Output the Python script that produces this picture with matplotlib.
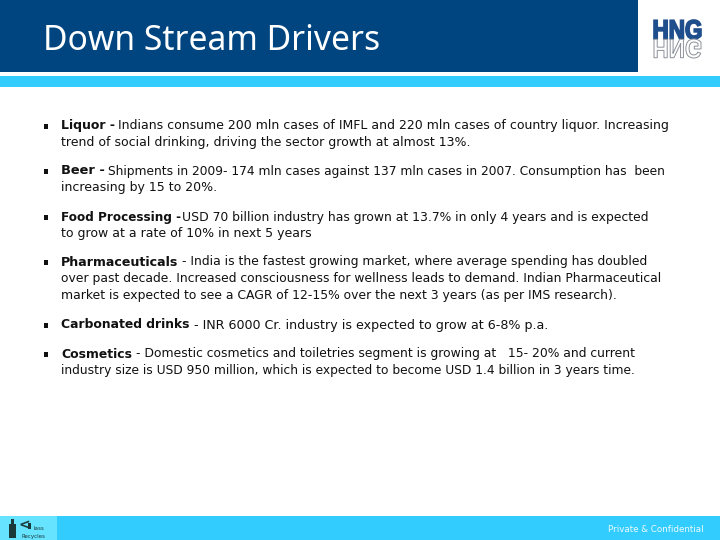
import matplotlib
matplotlib.use("Agg")
import matplotlib.pyplot as plt
from matplotlib.patches import Rectangle, PathPatch
from matplotlib.textpath import TextPath
from matplotlib.font_manager import FontProperties
from matplotlib.transforms import Affine2D

title_text = "Down Stream Drivers"
footer_text = "Private & Confidential"
logo_text = "HNG"
recycle_labels = ["lass", "Recycles"]

bold_leads = ["Liquor -", "Beer -", "Food Processing -", "Pharmaceuticals", "Carbonated drinks", "Cosmetics"]
first_lines = [
    "Indians consume 200 mln cases of IMFL and 220 mln cases of country liquor. Increasing",
    "Shipments in 2009- 174 mln cases against 137 mln cases in 2007. Consumption has  been",
    "USD 70 billion industry has grown at 13.7% in only 4 years and is expected",
    "- India is the fastest growing market, where average spending has doubled",
    "- INR 6000 Cr. industry is expected to grow at 6-8% p.a.",
    "- Domestic cosmetics and toiletries segment is growing at   15- 20% and current",
]
more_lines = [
    ["trend of social drinking, driving the sector growth at almost 13%."],
    ["increasing by 15 to 20%."],
    ["to grow at a rate of 10% in next 5 years"],
    ["over past decade. Increased consciousness for wellness leads to demand. Indian Pharmaceutical",
     "market is expected to see a CAGR of 12-15% over the next 3 years (as per IMS research)."],
    [],
    ["industry size is USD 950 million, which is expected to become USD 1.4 billion in 3 years time."],
]
first_y = [129.5, 174.5, 220.5, 265.5, 328.5, 357.5]
lead_w = [54, 44, 119, 117, 129, 71]
run_x = [118, 108, 182, 182, 194, 136]
run_w = [547, 557, 469, 465, 352, 499]
line_w = [[410], [155], [249], [599, 556], [], [576]]

NAVY = "#00457f"
CYAN = "#33ccff"
PALE = "#66e3ff"
INK = "#111111"
BODY = "DejaVu Sans"

fig = plt.figure(figsize=(7.2, 5.4), dpi=100, facecolor="white")
ax = fig.add_axes([0, 0, 1, 1])
ax.set_xlim(0, 720)
ax.set_ylim(540, 0)
ax.axis("off")


def rect(x, y, w, h, color):
    ax.add_patch(Rectangle((x, y), w, h, facecolor=color, edgecolor="none"))


def fitted(x, y, s, width, size, color=INK, family=BODY, **kw):
    """Place text and scale the font so the run spans the given pixel width."""
    t = ax.text(x, y, s, fontsize=size, va="baseline", ha="left", family=family, color=color, **kw)
    w = t.get_window_extent(fig.canvas.get_renderer()).width
    t.set_fontsize(size * width / w)
    return t


rect(0, 0, 638, 72, NAVY)
rect(0, 76, 720, 11, CYAN)
rect(0, 516, 720, 24, CYAN)
rect(0, 516, 57, 24, PALE)

fitted(43, 50, title_text, 337, 25, color="white", family="Noto Sans")

for i, lead in enumerate(bold_leads):
    y = first_y[i]
    rect(44, y - 6, 4, 5, INK)
    fitted(61, y, lead, lead_w[i], 8.6, fontweight="bold")
    fitted(run_x[i], y, first_lines[i], run_w[i], 8.6)
    for j, s in enumerate(more_lines[i]):
        fitted(61, y + 16.5 * (j + 1), s, line_w[i][j], 8.6)

fitted(608, 532, footer_text, 96, 6.4, color="#eafaff")

fp = FontProperties(family="Liberation Sans", weight="bold")
tp = TextPath((0, 0), logo_text, size=24, prop=fp)
bb = tp.get_extents()
sx, sy = 47 / bb.width, 19 / bb.height
up = Affine2D().translate(-bb.x0, -bb.y0).scale(sx, -sy).translate(654, 39)
ax.add_patch(PathPatch(up.transform_path(tp), facecolor="#1f4e8c", edgecolor="#1f4e8c", lw=1.2))
down = Affine2D().translate(-bb.x0, -bb.y0).scale(sx, sy).translate(654, 39)
ax.add_patch(PathPatch(down.transform_path(tp), facecolor="white", edgecolor="#8a8f98", lw=0.7))

rect(9, 524, 7, 14, "#1a3a3a")
rect(11, 519, 3, 5, "#1a3a3a")
ax.text(19, 529, "<", fontsize=10, fontweight="bold", color="#1a3a3a", va="baseline", ha="left", family=BODY)
rect(28, 523, 3, 6, "#1a3a3a")
ax.text(33, 530, recycle_labels[0], fontsize=4, color="#1a3a3a", va="baseline", ha="left", family=BODY)
ax.text(21, 538, recycle_labels[1], fontsize=4, color="#1a3a3a", va="baseline", ha="left", family=BODY)

fig.savefig("out.png", dpi=100, facecolor="white")
